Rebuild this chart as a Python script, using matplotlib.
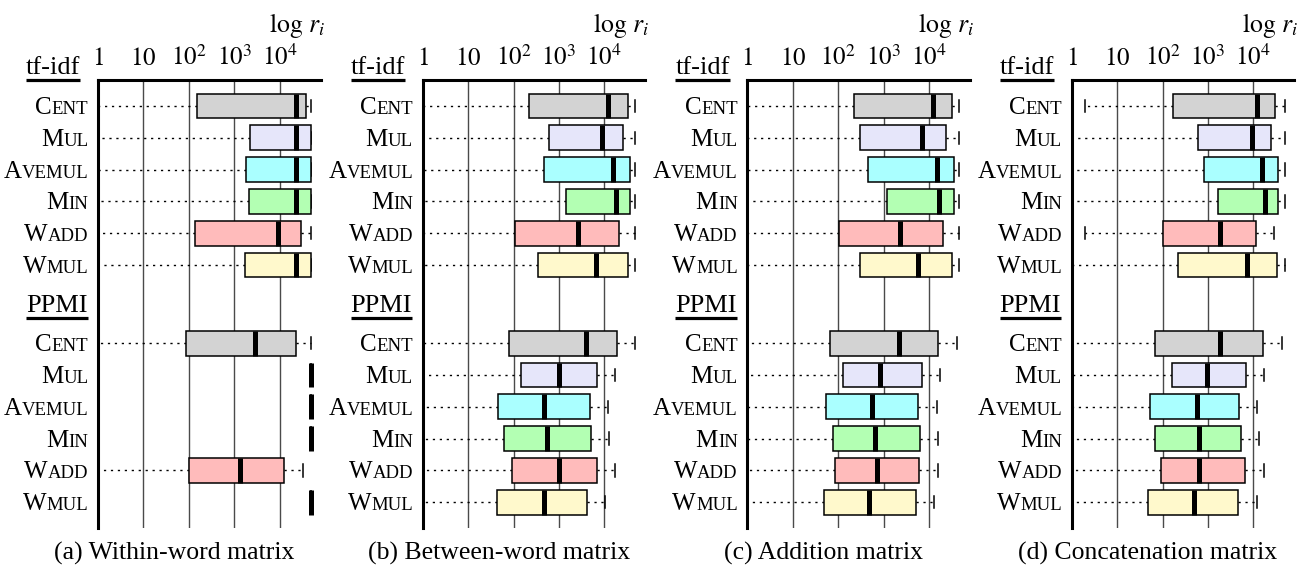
import matplotlib
matplotlib.use("Agg")
import matplotlib.pyplot as plt
from matplotlib.lines import Line2D
from matplotlib.ticker import NullLocator
from matplotlib.transforms import ScaledTranslation

plt.rcParams["font.family"] = ["Liberation Serif", "DejaVu Serif"]
plt.rcParams["mathtext.fontset"] = "stix"

# ---------------------------------------------------------------- data
# Row labels in small caps: (capital, remaining letters)
METHODS = [("C", "ENT"), ("M", "UL"), ("A", "VEMUL"),
           ("M", "IN"), ("W", "ADD"), ("W", "MUL")]
GROUPS = ["tf-idf", "PPMI"]
CAPTIONS = ["(a) Within-word matrix", "(b) Between-word matrix",
            "(c) Addition matrix", "(d) Concatenation matrix"]
TICKS = [1, 10, 100, 1000, 10000]
TICK_LABELS = ["$1$", "$10$", "$10^2$", "$10^3$", "$10^4$"]
FILLS = ["#d3d3d3", "#e6e6fa", "#aaffff", "#b3ffb3", "#ffbbbb", "#fff9cc"]

# Box statistics as log10(rank); 6 tf-idf rows followed by 6 PPMI rows.
WITHIN_LO = [0, 0, 0, 0, 0, 0, 0, 4.68, 4.68, 4.68, 0, 4.68]
WITHIN_Q1 = [2.18, 3.34, 3.27, 3.32, 2.13, 3.24, 1.93, 4.68, 4.68, 4.68, 2.00, 4.68]
WITHIN_MED = [4.35, 4.36, 4.35, 4.36, 3.96, 4.35, 3.46, 4.68, 4.68, 4.68, 3.12, 4.68]
WITHIN_Q3 = [4.57, 4.68, 4.68, 4.68, 4.48, 4.68, 4.35, 4.68, 4.68, 4.68, 4.10, 4.68]
WITHIN_HI = [4.68, 4.68, 4.68, 4.68, 4.68, 4.68, 4.68, 4.68, 4.68, 4.68, 4.51, 4.68]

BETWEEN_LO = [0] * 12
BETWEEN_Q1 = [2.35, 2.78, 2.67, 3.15, 2.04, 2.53, 1.90, 2.17, 1.66, 1.80, 1.96, 1.63]
BETWEEN_MED = [4.07, 3.94, 4.18, 4.26, 3.41, 3.81, 3.60, 3.00, 2.68, 2.74, 3.00, 2.67]
BETWEEN_Q3 = [4.52, 4.42, 4.57, 4.57, 4.32, 4.52, 4.28, 3.84, 3.68, 3.71, 3.84, 3.62]
BETWEEN_HI = [4.68, 4.68, 4.67, 4.67, 4.67, 4.68, 4.68, 4.24, 4.08, 4.11, 4.24, 4.02]

ADDITION_LO = [0] * 12
ADDITION_Q1 = [2.36, 2.48, 2.65, 3.07, 2.03, 2.49, 1.82, 2.10, 1.73, 1.89, 1.94, 1.69]
ADDITION_MED = [4.09, 3.84, 4.17, 4.22, 3.36, 3.77, 3.34, 2.93, 2.75, 2.82, 2.85, 2.69]
ADDITION_Q3 = [4.50, 4.37, 4.56, 4.56, 4.31, 4.51, 4.21, 3.85, 3.76, 3.80, 3.79, 3.71]
ADDITION_HI = [4.67, 4.67, 4.67, 4.67, 4.67, 4.67, 4.62, 4.25, 4.18, 4.19, 4.20, 4.11]

CONCAT_LO = [0.30, 0, 0, 0, 0.30, 0, 0, 0, 0, 0, 0, 0]
CONCAT_Q1 = [2.24, 2.79, 2.92, 3.22, 2.00, 2.33, 1.83, 2.20, 1.72, 1.83, 1.97, 1.69]
CONCAT_MED = [4.07, 3.97, 4.18, 4.25, 3.26, 3.86, 3.26, 2.97, 2.75, 2.80, 2.81, 2.70]
CONCAT_Q3 = [4.47, 4.38, 4.55, 4.55, 4.06, 4.53, 4.21, 3.83, 3.68, 3.73, 3.82, 3.66]
CONCAT_HI = [4.70, 4.70, 4.70, 4.70, 4.45, 4.70, 4.63, 4.24, 4.09, 4.13, 4.24, 4.07]

PANEL_STATS = [
    (WITHIN_LO, WITHIN_Q1, WITHIN_MED, WITHIN_Q3, WITHIN_HI),
    (BETWEEN_LO, BETWEEN_Q1, BETWEEN_MED, BETWEEN_Q3, BETWEEN_HI),
    (ADDITION_LO, ADDITION_Q1, ADDITION_MED, ADDITION_Q3, ADDITION_HI),
    (CONCAT_LO, CONCAT_Q1, CONCAT_MED, CONCAT_Q3, CONCAT_HI),
]

# ---------------------------------------------------------------- layout
W, H = 1301, 565
DPI = 100
AX_LEFTS = [98, 422.7, 747.3, 1071.7]
AX_WIDTH = 222.5
AX_TOP, AX_BOTTOM = 80, 528
ROW_PX = 31.8                       # pixels per row unit
ROW_POS = [0, 1, 2, 3, 4, 5, 7.46, 8.46, 9.46, 10.46, 11.46, 12.46]
HEADER_POS = [-1.006, 6.48]         # baselines of the group headers
Y_TOP = -26 / ROW_PX
Y_BOTTOM = Y_TOP + (AX_BOTTOM - AX_TOP) / ROW_PX

fig = plt.figure(figsize=(W / DPI, H / DPI), dpi=DPI)
renderer = fig.canvas.get_renderer()


def px_offset(dx, dy=0.0):
    return ScaledTranslation(dx / DPI, dy / DPI, fig.dpi_scale_trans)


for k, (left_px, stats_cols, caption) in enumerate(zip(AX_LEFTS, PANEL_STATS, CAPTIONS)):
    rect = [left_px / W, 1 - AX_BOTTOM / H, AX_WIDTH / W, (AX_BOTTOM - AX_TOP) / H]
    ax = fig.add_axes(rect)

    lo, q1, med, q3, hi = stats_cols
    stats = [dict(whislo=10 ** a, q1=10 ** b, med=10 ** c, q3=10 ** d, whishi=10 ** e)
             for a, b, c, d, e in zip(lo, q1, med, q3, hi)]
    art = ax.bxp(stats, positions=ROW_POS, widths=0.78, orientation="horizontal",
                 patch_artist=True, showfliers=False,
                 boxprops=dict(edgecolor="black", linewidth=1.1),
                 medianprops=dict(color="black", linewidth=3.6, solid_capstyle="butt"),
                 whiskerprops=dict(color="black", linewidth=1.0, linestyle=(0, (1.6, 3.4))),
                 capprops=dict(color="black", linewidth=1.1))
    for i, box in enumerate(art["boxes"]):
        box.set_facecolor(FILLS[i % 6])
        box.set_zorder(3)
    for m in art["medians"]:
        m.set_zorder(4)

    ax.set_xscale("log")
    ax.set_xlim(1, 10 ** 4.9)
    ax.set_ylim(Y_BOTTOM, Y_TOP)
    ax.xaxis.tick_top()
    ax.set_xticks(TICKS, TICK_LABELS)
    ax.xaxis.set_minor_locator(NullLocator())
    ax.tick_params(axis="x", length=0, pad=7.0, labelsize=18)
    ax.set_yticks([])
    ax.grid(axis="x", color="#4a4a4a", linewidth=1.0, zorder=0)
    ax.set_axisbelow(True)
    for side in ("right", "bottom"):
        ax.spines[side].set_visible(False)
    for side in ("left", "top"):
        ax.spines[side].set_linewidth(2.2)
        ax.spines[side].set_color("black")

    ytrans = ax.get_yaxis_transform()

    # small-caps method labels
    for i, y in enumerate(ROW_POS):
        cap, rest = METHODS[i % 6]
        t_rest = ax.text(0, y + 0.25, rest, fontsize=13.5, ha="right", va="baseline",
                         transform=ytrans + px_offset(-9.5))
        w_rest = t_rest.get_window_extent(renderer=renderer).width
        ax.text(0, y + 0.25, cap, fontsize=18, ha="right", va="baseline",
                transform=ytrans + px_offset(-9.5 - w_rest))

    # underlined group headers
    for name, yb in zip(GROUPS, HEADER_POS):
        t = ax.text(0, yb, name, fontsize=19, ha="left", va="baseline",
                    transform=ytrans + px_offset(-72))
        bb = t.get_window_extent(renderer=renderer)
        base_px = H - (AX_TOP + (yb - Y_TOP) * ROW_PX)
        fig.add_artist(Line2D([bb.x0 / W, bb.x1 / W],
                              [(base_px - 5.5) / H, (base_px - 5.5) / H],
                              transform=fig.transFigure, color="black",
                              linewidth=2.3, solid_capstyle="butt"))

    # axis title and caption
    fig.text((left_px + AX_WIDTH + 4) / W, 1 - 31.5 / H, r"$\log\, r_i$",
             ha="right", va="baseline", fontsize=18.5)
    fig.text((left_px + AX_WIDTH / 2 - 35) / W, 1 - 560 / H, caption,
             ha="center", va="baseline", fontsize=18.5)

fig.savefig("out.png", dpi=DPI)
